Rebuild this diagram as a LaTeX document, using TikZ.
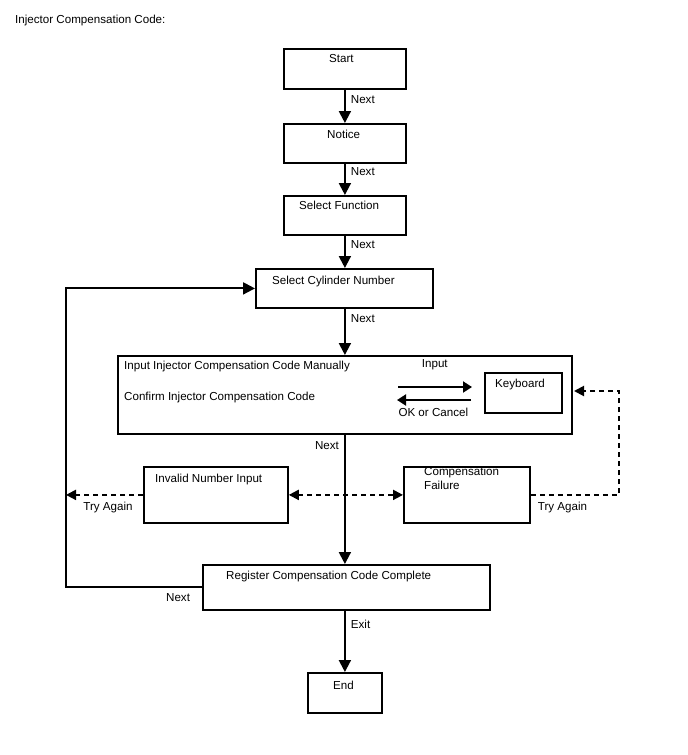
\documentclass[tikz,border=0pt]{standalone}
\usepackage{fontspec}
\setmainfont{Liberation Sans}
\usetikzlibrary{positioning,arrows.meta,calc}
\tikzset{
  fig/.style={font=\fontsize{11.6}{14}\selectfont},
  box/.style={draw,line width=1.8pt,anchor=north west,inner sep=0pt},
  ln/.style={-{Triangle[length=12pt,width=12pt]},line width=2pt},
  lns/.style={-{Triangle[length=9pt,width=11pt]},line width=2pt},
  dln/.style={-{Triangle[length=10pt,width=10pt]},line width=2pt,
              dash pattern=on 5pt off 4pt},
  dlnb/.style={{Triangle[length=10pt,width=10pt]}-{Triangle[length=10pt,width=10pt]},
               line width=2pt,dash pattern=on 5pt off 4pt},
  lbl/.style={inner sep=5pt},
  txt/.style={inner sep=0pt,anchor=base west},
}

\begin{document}
\begin{tikzpicture}[fig,x=1pt,y=-1pt]
\useasboundingbox (0,0) rectangle (688,755);

% Title
\node[txt] (title) at (15,23) {Injector Compensation Code:};

% Main column
\node[box,minimum width=122pt,minimum height=40pt] (start) at (283,48) {};
\node[txt] (start-t) at (329,62.7) {Start};
\node[box,minimum width=122pt,minimum height=39pt] (notice) at (283,123) {};
\node[txt] (notice-t) at (327,138) {Notice};
\node[box,minimum width=122pt,minimum height=39pt] (func) at (283,195) {};
\node[txt] (func-t) at (299,209.5) {Select Function};
\node[box,minimum width=177pt,minimum height=39pt] (sel) at (255,268) {};
\node[txt] (sel-t) at (272,284) {Select Cylinder Number};

\draw[ln] (start) -- node[lbl,right,pos=0.3]{Next} (notice);
\draw[ln] (notice) -- node[lbl,right,pos=0.24]{Next} (func);
\draw[ln] (func) -- node[lbl,right,pos=0.26]{Next} (func.south |- sel.north);

% Input box with keyboard
\node[box,minimum width=454pt,minimum height=78pt] (main) at (117,355) {};
\node[txt] (manual) at (124,369.3) {Input Injector Compensation Code Manually};
\node[txt] (confirm) at (124,400) {Confirm Injector Compensation Code};
\node[box,minimum width=77pt,minimum height=40pt] (kb) at (484,372) {};
\node[txt] (kb-t) at (495,387.3) {Keyboard};
\draw[ln] (func.south |- sel.south) -- node[lbl,right,pos=0.22]{Next} (func.south |- main.north);

\coordinate (ia) at (398,387);
\coordinate (ib) at (472,387);
\coordinate (oa) at (471,400);
\coordinate (ob) at (397,400);
\draw[lns] (ia) -- (ib);
\draw[lns] (oa) -- (ob);
\node[txt] (input) at (421.7,367.3) {Input};
\node[txt] (okc) at (398.3,416) {OK or Cancel};

% Failure boxes
\node[box,minimum width=144pt,minimum height=56pt] (inv) at (143,466) {};
\node[txt] (inv-t) at (155,482.7) {Invalid Number Input};
\node[box,minimum width=126pt,minimum height=56pt] (comp) at (403,466) {};
\node[inner sep=0pt,anchor=north west,align=left] (comp-t) at (424,466.8) {Compensation\\Failure};

% Register and end
\node[box,minimum width=287pt,minimum height=45pt] (reg) at (202,564) {};
\node[txt] (reg-t) at (226,579.3) {Register Compensation Code Complete};
\node[box,minimum width=74pt,minimum height=40pt] (end) at (307,672) {};
\node[txt] (end-t) at (333,689.3) {End};

\draw[ln] (func.south |- main.south) -- node[lbl,left,pos=0.08]{Next} (func.south |- reg.north);
\draw[ln] (func.south |- reg.south) -- node[lbl,right,pos=0.22]{Exit} (func.south |- end.north);

% Loops back
\coordinate (lp) at (66,0);
\coordinate (rp) at (619,0);
\coordinate (kin) at (574,391);
\draw[ln] (reg.west) -- node[pos=0,anchor=north east,inner sep=0pt,xshift=-11pt,yshift=-5pt]{Next}
  (reg.west -| lp) |- (sel.west);
\draw[dln] (inv.west) -- node[lbl,below,inner sep=6pt,xshift=3.5pt]{Try Again} (inv.west -| lp);
\draw[dlnb] (inv.east) -- (comp.west);
\draw[dln] (comp.east) -- node[lbl,below,inner sep=6pt,pos=0.36]{Try Again} (comp.east -| rp) |- (kin);

\end{tikzpicture}
\end{document}
